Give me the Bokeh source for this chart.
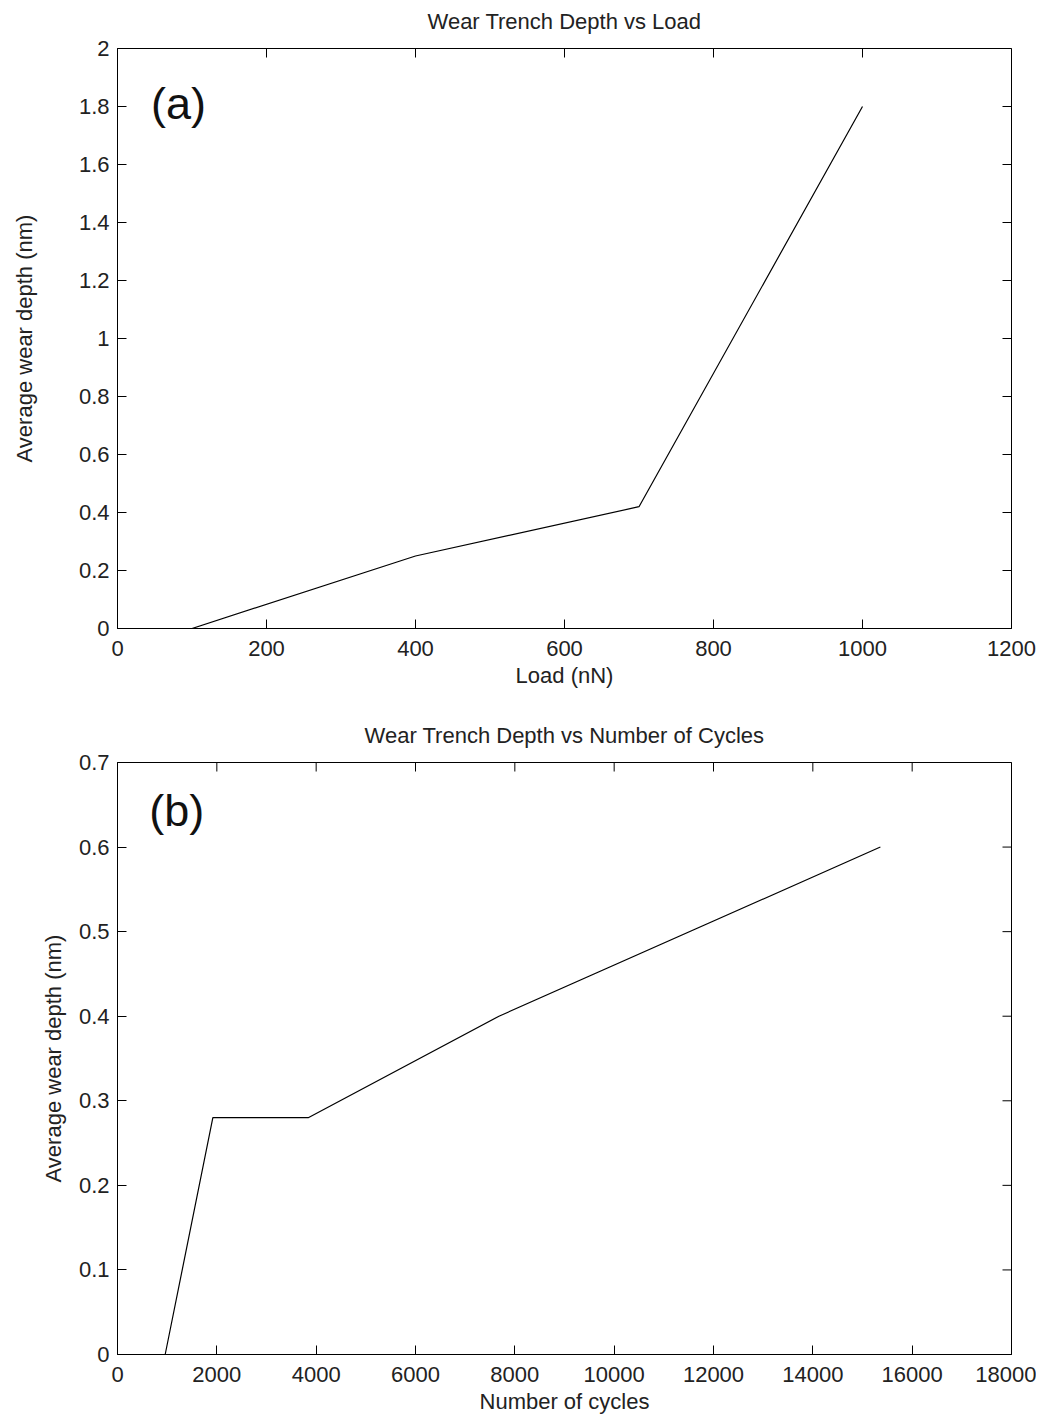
import math
from bokeh.plotting import figure
from bokeh.layouts import column
from bokeh.models import Range1d, FixedTicker, Label, LinearAxis
from bokeh.embed import file_html
from bokeh.resources import INLINE

# ---- data (panel a) ----
load_nN = [100, 400, 700, 1000]
depth_load = [0.0, 0.25, 0.42, 1.80]
xticks_a = [0, 200, 400, 600, 800, 1000, 1200]
xlabels_a = ["0", "200", "400", "600", "800", "1000", "1200"]
yticks_a = [0, 0.2, 0.4, 0.6, 0.8, 1.0, 1.2, 1.4, 1.6, 1.8, 2.0]
ylabels_a = ["0", "0.2", "0.4", "0.6", "0.8", "1", "1.2", "1.4", "1.6", "1.8", "2"]

# ---- data (panel b) ----
cycles = [960, 1920, 3840, 7680, 15360]
depth_cycles = [0.0, 0.28, 0.28, 0.40, 0.60]
xticks_b = [0, 2000, 4000, 6000, 8000, 10000, 12000, 14000, 16000, 18000]
xlabels_b = ["0", "2000", "4000", "6000", "8000", "10000", "12000", "14000", "16000", "18000"]
yticks_b = [0, 0.1, 0.2, 0.3, 0.4, 0.5, 0.6, 0.7]
ylabels_b = ["0", "0.1", "0.2", "0.3", "0.4", "0.5", "0.6", "0.7"]

FONT = "Liberation Sans"
FS = "22px"
TXT = "#222222"


def style_axis(ax, ticks, labels, label_standoff):
    ax.ticker = FixedTicker(ticks=ticks)
    ax.major_label_overrides = {t: l for t, l in zip(ticks, labels)}
    ax.major_tick_in = 9
    ax.major_tick_out = 0
    ax.minor_tick_line_color = None
    ax.axis_line_color = "black"
    ax.axis_line_width = 1
    ax.major_tick_line_color = "black"
    ax.major_tick_line_width = 1
    ax.major_label_text_font = FONT
    ax.major_label_text_font_size = FS
    ax.major_label_text_color = TXT
    ax.major_label_standoff = label_standoff
    ax.axis_label_text_font = FONT
    ax.axis_label_text_font_size = FS
    ax.axis_label_text_font_style = "normal"
    ax.axis_label_text_color = TXT


def make_panel(title, xs, ys, xr, yr, xt, xl, yt, yl, xlabel, ylabel,
               tag, tag_x, tag_y, top_border, bottom_border, fh, y_label_standoff):
    p = figure(frame_width=894, frame_height=fh, title=None,
               x_range=Range1d(*xr), y_range=Range1d(*yr),
               output_backend="svg", toolbar_location=None,
               min_border_left=117, min_border_right=25,
               min_border_top=top_border, min_border_bottom=bottom_border,
               background_fill_color="white", border_fill_color="white")
    p.grid.visible = False
    p.outline_line_color = "black"
    p.outline_line_width = 1

    style_axis(p.xaxis[0], xt, xl, label_standoff=12)
    p.xaxis[0].axis_label = xlabel
    p.xaxis[0].axis_label_standoff = 4
    style_axis(p.yaxis[0], yt, yl, label_standoff=8)
    p.yaxis[0].axis_label = ylabel
    p.yaxis[0].axis_label_standoff = y_label_standoff

    # title: label of a tick-less axis above the box
    top = LinearAxis(ticker=FixedTicker(ticks=[]), axis_label=title)
    top.axis_line_color = None
    top.major_tick_line_color = None
    top.minor_tick_line_color = None
    top.major_label_standoff = 0
    top.axis_label_standoff = 15
    top.axis_label_text_font = FONT
    top.axis_label_text_font_size = FS
    top.axis_label_text_font_style = "normal"
    top.axis_label_text_color = TXT
    p.add_layout(top, "above")

    # inward ticks on the top and right edges of the box (clipped to the frame)
    p.scatter(xt, [yr[1]] * len(xt), marker="dash", angle=math.pi / 2,
              size=18, line_color="black", line_width=1)
    p.scatter([xr[1]] * len(yt), yt, marker="dash", angle=0,
              size=18, line_color="black", line_width=1)

    p.line(xs, ys, line_color="black", line_width=1.2)
    p.add_layout(Label(x=tag_x, y=tag_y, text=tag, text_font=FONT,
                       text_font_size="45px", text_baseline="middle",
                       text_color="#111111"))
    return p


p1 = make_panel("Wear Trench Depth vs Load", load_nN, depth_load,
                (0, 1200), (0, 2), xticks_a, xlabels_a, yticks_a, ylabels_a,
                "Load (nN)", "Average wear depth (nm)",
                "(a)", 45, 1.81, 48, 75, 580, 39)
p2 = make_panel("Wear Trench Depth vs Number of Cycles", cycles, depth_cycles,
                (0, 18000), (0, 0.7), xticks_b, xlabels_b, yticks_b, ylabels_b,
                "Number of cycles", "Average wear depth (nm)",
                "(b)", 640, 0.643, 59, 55, 592, 10)

layout = column(p1, p2)
open("out.html", "w").write(file_html(layout, INLINE))
